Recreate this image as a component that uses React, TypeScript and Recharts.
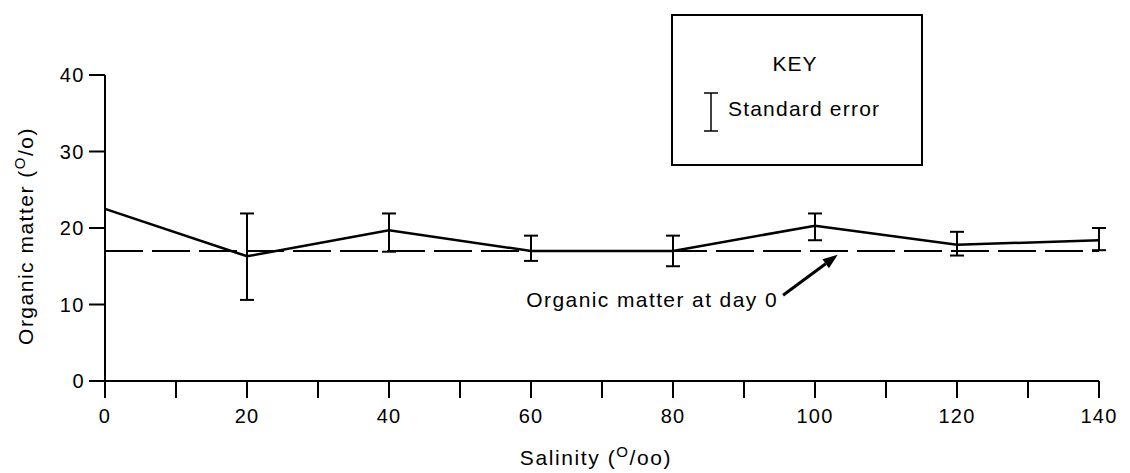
import { LineChart, Line, XAxis, YAxis, ErrorBar, ReferenceLine, Customized } from 'recharts';

// Organic matter by salinity, with standard-error ranges
const salinity = [0, 20, 40, 60, 80, 100, 120, 140];
const organicMean = [22.5, 16.3, 19.7, 17.0, 17.0, 20.3, 17.8, 18.4];
const errorLow: (number | null)[] = [null, 10.6, 16.9, 15.7, 15.0, 18.4, 16.4, 17.1];
const errorHigh: (number | null)[] = [null, 21.9, 21.9, 19.0, 19.0, 21.9, 19.5, 20.0];
const dayZeroLevel = 17;

const xTicks = [0, 10, 20, 30, 40, 50, 60, 70, 80, 90, 100, 110, 120, 130, 140];
const yTicks = [0, 10, 20, 30, 40];

// arrow pointing at the day-0 line, in data units
const arrowFrom = { x: 95.5, y: 11.2 };
const arrowTo = { x: 103.2, y: 16.5 };

const FONT = '"Liberation Sans", Arial, Helvetica, sans-serif';

const data = salinity.map((s, i) => {
  const lo = errorLow[i];
  const hi = errorHigh[i];
  return {
    salinity: s,
    organic: organicMean[i],
    err: lo == null || hi == null ? null : [organicMean[i] - lo, hi - organicMean[i]],
  };
});

const ArrowShape = (props: any) => {
  const { x1, y1, x2, y2 } = props;
  const ang = Math.atan2(y2 - y1, x2 - x1);
  const len = 15;
  const half = 5.5;
  const bx = x2 - len * Math.cos(ang);
  const by = y2 - len * Math.sin(ang);
  const px = -Math.sin(ang) * half;
  const py = Math.cos(ang) * half;
  return (
    <g>
      <line x1={x1} y1={y1} x2={bx} y2={by} stroke="#000" strokeWidth={3} />
      <polygon points={`${x2},${y2} ${bx + px},${by + py} ${bx - px},${by - py}`} fill="#000" />
    </g>
  );
};

const Annotations = () => (
  <g fontFamily={FONT} fill="#000">
    {/* key box */}
    <rect x={672} y={15} width={250} height={150} fill="none" stroke="#000" strokeWidth={2} />
    <text x={795} y={71} textAnchor="middle" fontSize={21} letterSpacing={1}>
      KEY
    </text>
    <line x1={711} y1={93} x2={711} y2={131} stroke="#000" strokeWidth={1.5} />
    <line x1={704} y1={93} x2={718} y2={93} stroke="#000" strokeWidth={1.5} />
    <line x1={704} y1={131} x2={718} y2={131} stroke="#000" strokeWidth={1.5} />
    <text x={728} y={116} fontSize={21} letterSpacing={1.2}>
      Standard error
    </text>

    <text x={778} y={307} textAnchor="end" fontSize={21} letterSpacing={1.4}>
      Organic matter at day 0
    </text>

    {/* axis titles */}
    <text x={596} y={465} textAnchor="middle" fontSize={21} letterSpacing={1.6}>
      Salinity (
      <tspan fontSize={15} dy={-8}>O</tspan>
      <tspan dy={8}>/oo)</tspan>
    </text>
    <text transform="translate(33,236) rotate(-90)" textAnchor="middle" fontSize={21} letterSpacing={1.5}>
      Organic matter (
      <tspan fontSize={15} dy={-8}>O</tspan>
      <tspan dy={8}>/o)</tspan>
    </text>
  </g>
);

export default function App() {
  return (
    <div style={{ position: 'absolute', left: 0, top: 0, width: 1130, height: 473, background: '#fff' }}>
      <LineChart
        width={1130}
        height={473}
        data={data}
        margin={{ top: 75, right: 31, bottom: 32, left: 45 }}
      >
        <XAxis
          dataKey="salinity"
          type="number"
          domain={[0, 140]}
          ticks={xTicks}
          interval={0}
          height={60}
          tickSize={17}
          tickMargin={11}
          tickFormatter={(v: number) => (v % 20 === 0 ? String(v) : '')}
          axisLine={{ stroke: '#000', strokeWidth: 2 }}
          tickLine={{ stroke: '#000', strokeWidth: 2 }}
          tick={{ fill: '#000', fontSize: 20, fontFamily: FONT, letterSpacing: 1.2 }}
        />
        <YAxis
          type="number"
          domain={[0, 40]}
          ticks={yTicks}
          interval={0}
          width={60}
          tickSize={16}
          tickMargin={4}
          axisLine={{ stroke: '#000', strokeWidth: 2 }}
          tickLine={{ stroke: '#000', strokeWidth: 2 }}
          tick={{ fill: '#000', fontSize: 20, fontFamily: FONT, letterSpacing: 1.5 }}
        />
        <ReferenceLine
          y={dayZeroLevel}
          stroke="#000"
          strokeWidth={2}
          strokeDasharray="38 9"
        />
        <ReferenceLine
          segment={[arrowFrom, arrowTo]}
          stroke="#000"
          shape={ArrowShape}
        />
        <Line
          type="linear"
          dataKey="organic"
          stroke="#000"
          strokeWidth={2.5}
          dot={false}
          activeDot={false}
          isAnimationActive={false}
        >
          <ErrorBar dataKey="err" width={7} stroke="#000" strokeWidth={2} isAnimationActive={false} />
        </Line>
        <Customized component={Annotations} />
      </LineChart>
    </div>
  );
}
